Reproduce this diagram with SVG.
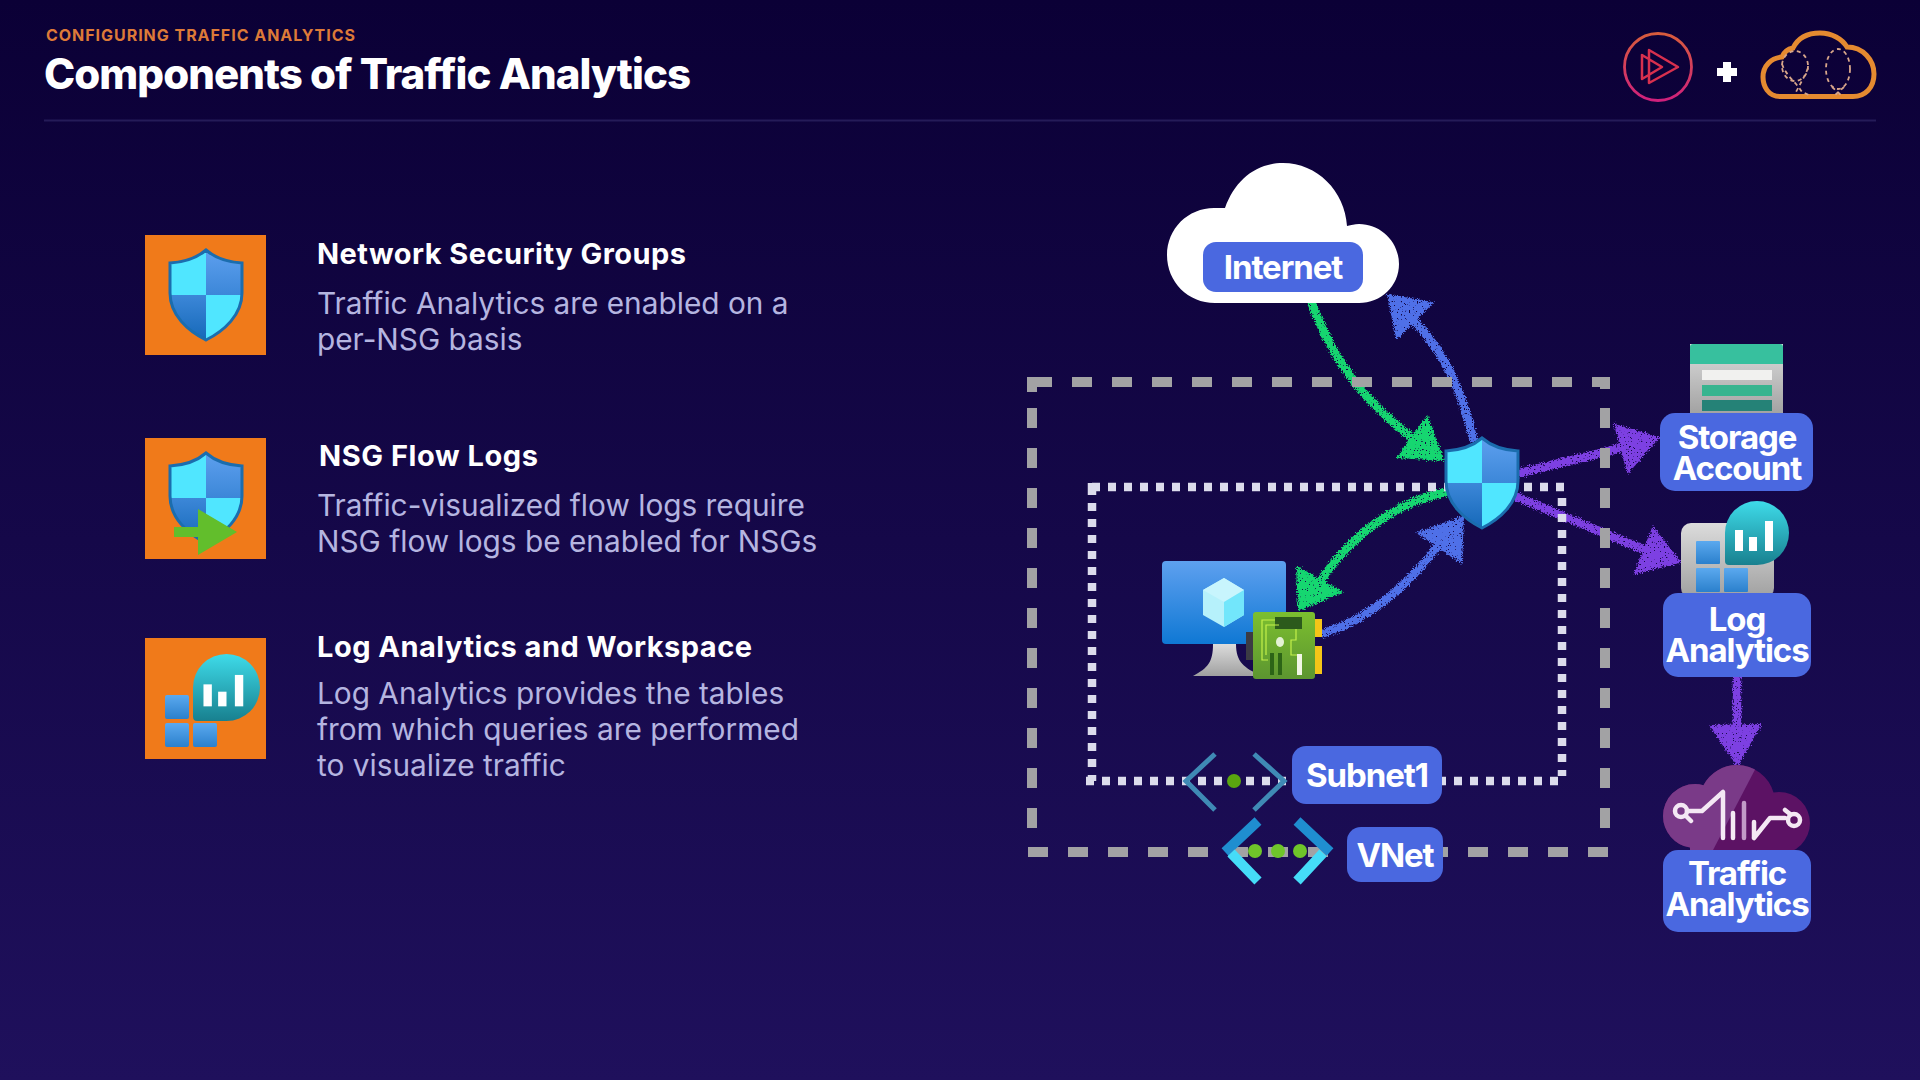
<svg xmlns="http://www.w3.org/2000/svg" xmlns:xlink="http://www.w3.org/1999/xlink" width="1920" height="1080" viewBox="0 0 1920 1080">
<style>
text{font-family:Inter,"Liberation Sans",sans-serif}
.eyebrow{font-size:16px;font-weight:700;fill:#dd7a38}
.title{font-size:42px;font-weight:800;fill:#fff}
.h{font-size:29px;font-weight:700;fill:#fff}
.b{font-size:29.800px;font-weight:400;fill:#b5b5e0}
.pl{font-size:33px;font-weight:700;fill:#fff;text-anchor:middle;letter-spacing:-1.100px}
.pill{fill:#4a68e0}
.sq{fill:#f07a1a}
.con{fill:none;stroke-width:8.500;stroke-linecap:round}
.green{stroke:#12d670}.gh{fill:#12d670;stroke:#12d670;stroke-width:2}
.blue{stroke:#4f6fe8}.bh{fill:#4f6fe8;stroke:#4f6fe8;stroke-width:2}
.purple{stroke:#7d3fe2}.ph{fill:#7d3fe2;stroke:#7d3fe2;stroke-width:2}
.ln{fill:none;stroke:#f4e8f4;stroke-width:4.500;stroke-linecap:round;stroke-linejoin:round}
.dash{fill:none;stroke:#a2a2a4;stroke-width:10;stroke-dasharray:20 20}
.dot{fill:none;stroke:#dcdcec;stroke-width:8.500;stroke-dasharray:8 8}
.balloon{fill:none;stroke:#d8a68a;stroke-width:1.800;stroke-dasharray:4 3.500}
</style>
<defs>
<linearGradient id="bg" x1="0" y1="0" x2="0" y2="1"><stop offset="0" stop-color="#0b0036"/><stop offset="1" stop-color="#1f105c"/></linearGradient>
<linearGradient id="sTR" x1="0" y1="0" x2="0" y2="1"><stop offset="0" stop-color="#5ea0ef"/><stop offset="1" stop-color="#3c87d8"/></linearGradient>
<linearGradient id="sBL" x1="0" y1="0" x2="0" y2="1"><stop offset="0" stop-color="#3c87d8"/><stop offset="1" stop-color="#1568b8"/></linearGradient>
<linearGradient id="win" x1="0" y1="0" x2="0" y2="1"><stop offset="0" stop-color="#5ba9ef"/><stop offset="1" stop-color="#2b80cc"/></linearGradient>
<linearGradient id="bub" x1="0" y1="0" x2="0" y2="1"><stop offset="0" stop-color="#3edbe9"/><stop offset="1" stop-color="#18808f"/></linearGradient>
<linearGradient id="mon" x1="0" y1="0" x2="0" y2="1"><stop offset="0" stop-color="#5ea0ef"/><stop offset="1" stop-color="#0f78d4"/></linearGradient>
<linearGradient id="gray" x1="0" y1="0" x2="0" y2="1"><stop offset="0" stop-color="#dcdcdc"/><stop offset="1" stop-color="#a0a0a0"/></linearGradient>
<linearGradient id="nic" x1="0" y1="0" x2="0" y2="1"><stop offset="0" stop-color="#7cbf2f"/><stop offset="1" stop-color="#5c9530"/></linearGradient>
<linearGradient id="ps" x1="0" y1="0" x2="0" y2="1"><stop offset="0" stop-color="#d85c3c"/><stop offset="1" stop-color="#d0207c"/></linearGradient>
<clipPath id="shieldClip"><path id="shieldPath" d="M38 1C30 8 18 13 2 14V44C2 66 20 82 38 91C56 82 74 66 74 44V14C58 13 46 8 38 1Z"/></clipPath>
<symbol id="shield" viewBox="0 0 76 92" width="76" height="92" overflow="visible">
<g clip-path="url(#shieldClip)">
<rect x="0" y="0" width="38" height="46" fill="#50e6ff"/>
<rect x="38" y="0" width="38" height="46" fill="url(#sTR)"/>
<rect x="0" y="46" width="38" height="46" fill="url(#sBL)"/>
<rect x="38" y="46" width="38" height="46" fill="#50e6ff"/>
</g>
<path d="M38 1C30 8 18 13 2 14V44C2 66 20 82 38 91C56 82 74 66 74 44V14C58 13 46 8 38 1Z" fill="none" stroke="#1b6dae" stroke-width="3"/>
</symbol>
<symbol id="bubble" viewBox="0 0 64 64" width="64" height="64">
<path d="M0 32A32 32 0 1 1 32 64H4Q0 64 0 60Z" fill="url(#bub)"/>
<rect x="10" y="29" width="8" height="21" fill="#fff"/><rect x="24" y="36" width="8" height="14" fill="#fff"/><rect x="40" y="20" width="8" height="30" fill="#fff"/>
</symbol>
<filter id="chalk" filterUnits="userSpaceOnUse" x="0" y="0" width="1920" height="1080">
<feTurbulence type="fractalNoise" baseFrequency="0.75" numOctaves="2" seed="4" result="n"/>
<feDisplacementMap in="SourceGraphic" in2="n" scale="7" xChannelSelector="R" yChannelSelector="G" result="d"/>
<feColorMatrix in="n" type="matrix" values="0 0 0 0 0  0 0 0 0 0  0 0 0 0 0  14 0 0 0 -9.400" result="s"/>
<feComposite in="d" in2="s" operator="out"/>
</filter>
<clipPath id="tc"><circle cx="1695" cy="816" r="32"/><circle cx="1737" cy="803" r="38"/><circle cx="1779" cy="823" r="31"/><rect x="1690" y="815" width="90" height="36"/></clipPath>
</defs>
<rect width="1920" height="1080" fill="url(#bg)"/>

<g id="header">
<text class="eyebrow" x="46" y="41" textLength="309" lengthAdjust="spacing">CONFIGURING TRAFFIC ANALYTICS</text>
<text class="title" x="44" y="89" textLength="647" lengthAdjust="spacing">Components of Traffic Analytics</text>
<rect x="44" y="119.500" width="1832" height="2" fill="#251b58"/>
</g>
<g id="logo-pluralsight">
<circle cx="1658" cy="67" r="33.500" fill="none" stroke="url(#ps)" stroke-width="2.800"/>
<path d="M1649 50L1678 67L1649 83ZM1642 55V79L1662 67Z" fill="none" stroke="#d8304e" stroke-width="2.500" stroke-linejoin="round"/>
</g>
<path id="plus" d="M1717 72H1737M1727 62V82" stroke="#fff" stroke-width="8" fill="none"/>
<g id="logo-cloud">
<path d="M1780 96.500C1768 96.500 1763 86 1763 77C1763 66 1771 58 1782 57C1784 52 1788 49 1793 48C1798 38 1808 33 1820 33C1832 33 1842 39 1847 47C1863 47 1874 60 1874 74C1874 88 1865 96.500 1853 96.500Z" fill="none" stroke="#e58a30" stroke-width="5"/>
<ellipse class="balloon" cx="1795" cy="66" rx="13" ry="15"/>
<path class="balloon" d="M1782 64C1786 76 1796 82 1802 92L1809 95M1808 68C1804 78 1800 84 1796 92"/>
<ellipse class="balloon" cx="1838" cy="69" rx="12" ry="20"/>
<path class="balloon" d="M1832 87L1842 96M1844 87L1834 96"/>
</g>

<g id="node-nsg-item">
<rect class="sq" x="145" y="235" width="121" height="120"/>
<use href="#shield" x="168" y="249"/>
<text class="h" x="317" y="264" textLength="369" lengthAdjust="spacing">Network Security Groups</text>
<text class="b" x="317" y="314">Traffic Analytics are enabled on a</text>
<text class="b" x="317" y="350">per-NSG basis</text>
</g>
<g id="node-flow-item">
<rect class="sq" x="145" y="438" width="121" height="121"/>
<use href="#shield" x="168" y="452"/>
<path d="M174 527H198V509L237 532L198 555V537H174Z" fill="#62be2c"/>
<text class="h" x="319" y="466" textLength="219" lengthAdjust="spacing">NSG Flow Logs</text>
<text class="b" x="317" y="516">Traffic-visualized flow logs require</text>
<text class="b" x="317" y="552">NSG flow logs be enabled for NSGs</text>
</g>
<g id="node-law-item">
<rect class="sq" x="145" y="638" width="121" height="121"/>
<rect x="165" y="695" width="24" height="24" rx="2" fill="url(#win)"/>
<rect x="165" y="723" width="24" height="24" rx="2" fill="url(#win)"/>
<rect x="193" y="723" width="24" height="24" rx="2" fill="url(#win)"/>
<use href="#bubble" x="193" y="654" width="67" height="67"/>
<text class="h" x="317" y="657" textLength="435" lengthAdjust="spacing">Log Analytics and Workspace</text>
<text class="b" x="317" y="704">Log Analytics provides the tables</text>
<text class="b" x="317" y="740">from which queries are performed</text>
<text class="b" x="317" y="776">to visualize traffic</text>
</g>

<g id="connectors" filter="url(#chalk)">
<g id="c-internet-nsg"><path class="con green" d="M1312 304C1335 365 1368 405 1415 440"/><polygon class="gh" points="1443,460 1427,417 1398,457"/></g>
<g id="c-nsg-internet"><path class="con blue" d="M1473 438C1460 385 1442 350 1415 322"/><polygon class="bh" points="1388,295 1432,303 1397,338"/></g>
<g id="c-nsg-storage"><path class="con purple" d="M1520 473L1625 447"/><polygon class="ph" points="1658,438 1615,425 1628,472"/></g>
<g id="c-nsg-law"><path class="con purple" d="M1517 497L1650 552"/><polygon class="ph" points="1680,562 1653,528 1635,573"/></g>
<g id="c-nsg-nic"><path class="con green" d="M1445 492C1395 503 1350 535 1318 585"/><polygon class="gh" points="1299,610 1297,567 1341,592"/></g>
<g id="c-nic-nsg"><path class="con blue" d="M1324 633C1365 620 1405 590 1440 543"/><polygon class="bh" points="1463,517 1418,533 1461,562"/></g>
<g id="c-law-ta"><path class="con purple" d="M1737 679V730"/><polygon class="ph" points="1737,765 1711,726 1760,725"/></g>
</g>

<g id="container-vnet">
<path class="dash" d="M1032 382H1610"/>
<path class="dash" d="M1032 377V392" style="stroke-dasharray:none"/>
<path class="dash" d="M1032 408V840"/>
<path class="dash" d="M1605 377V389" style="stroke-dasharray:none"/>
<path class="dash" d="M1605 408V848"/>
<path class="dash" d="M1028 852H1610"/>
</g>
<g id="container-subnet">
<path class="dot" d="M1092 487H1566"/>
<path class="dot" d="M1092 483V495" style="stroke-dasharray:none"/>
<path class="dot" d="M1092 503V781"/>
<path class="dot" d="M1562 498V776"/>
<path class="dot" d="M1086 781H1558"/>
</g>

<g id="node-internet">
<path d="M1215 303C1188 303 1167 282 1167 255C1167 228 1189 207 1216 208H1225C1235 180 1256 163 1283 163C1317 163 1345 191 1347 226C1352 225 1354 224 1359 224C1381 224 1399 242 1399 264C1399 286 1381 303 1359 303Z" fill="#fff"/>
<rect class="pill" x="1203" y="242" width="160" height="50" rx="13"/>
<text class="pl" x="1283" y="279">Internet</text>
</g>
<g id="node-nsg"><use href="#shield" x="1444" y="437"/></g>
<g id="node-vm">
<rect x="1162" y="561" width="124" height="83" rx="4" fill="url(#mon)"/>
<polygon points="1224,578 1244,590 1244,615 1224,627 1203,615 1203,590" fill="#b6f1fb"/>
<polygon points="1224,578 1244,590 1224,602 1203,590" fill="#c8f5fd"/>
<polygon points="1244,590 1244,615 1224,627 1224,602" fill="#72e6fb"/>
<path d="M1213 644H1236C1236 662 1244 668 1262 676H1193C1208 668 1213 662 1213 644Z" fill="url(#gray)"/>
<rect x="1246" y="632" width="8" height="28" fill="#3b3b44"/>
</g>
<g id="node-nic">
<rect x="1315" y="619" width="7" height="18" fill="#f5c518"/>
<rect x="1315" y="646" width="7" height="28" fill="#f5c518"/>
<rect x="1253" y="612" width="62" height="67" rx="3" fill="url(#nic)"/>
<rect x="1275" y="617" width="27" height="12" fill="#2c5a1c"/>
<path d="M1275 620H1262V660H1268M1279 625H1266V655M1296 629V640H1291V655H1297" fill="none" stroke="#c4f04a" stroke-width="1.200"/>
<ellipse cx="1280" cy="642" rx="4" ry="5" fill="#e4f2d6"/>
<rect x="1270" y="653" width="4" height="22" fill="#2c6416"/><rect x="1278" y="653" width="4" height="22" fill="#2c6416"/>
<rect x="1297" y="654" width="5" height="21" fill="#f2f6e6"/>
</g>
<g id="node-subnet">
<path d="M1215 754L1186 781L1215 810M1254 754L1284 781L1254 810" fill="none" stroke="#3f8ab5" stroke-width="5"/>
<circle cx="1234" cy="781" r="7" fill="#5aa50f"/>
<rect class="pill" x="1292" y="746" width="150" height="58" rx="14"/>
<text class="pl" x="1367" y="787">Subnet1</text>
</g>
<g id="node-vnet">
<path d="M1258 821L1225 852M1297 821L1330 852" fill="none" stroke="#1f8ed0" stroke-width="10"/>
<path d="M1231 853L1258 881M1323 853L1297 881" fill="none" stroke="#45dcf8" stroke-width="10"/>
<circle cx="1255" cy="851" r="7" fill="#6fc52a"/><circle cx="1278" cy="851" r="7" fill="#6fc52a"/><circle cx="1300" cy="851" r="7" fill="#6fc52a"/>
<rect class="pill" x="1347" y="827" width="96" height="55" rx="14"/>
<text class="pl" x="1395" y="867">VNet</text>
</g>
<g id="node-storage">
<rect x="1690" y="344" width="93" height="72" fill="url(#gray)"/>
<path d="M1690 364V347Q1690 344 1693 344H1780Q1783 344 1783 347V364Z" fill="#37c09e"/>
<rect x="1702" y="370" width="70" height="10" fill="#f1f1ef"/>
<rect x="1702" y="385" width="70" height="11" fill="#37b48f"/>
<rect x="1702" y="400" width="70" height="11" fill="#258277"/>
<rect class="pill" x="1660" y="413" width="153" height="78" rx="15"/>
<text class="pl" x="1737" y="449">Storage</text>
<text class="pl" x="1737" y="480">Account</text>
</g>
<g id="node-law">
<rect x="1681" y="523" width="93" height="75" rx="10" fill="url(#gray)"/>
<rect x="1696" y="541" width="24" height="23" rx="1" fill="url(#win)"/>
<rect x="1696" y="568" width="24" height="24" rx="1" fill="url(#win)"/>
<rect x="1724" y="568" width="24" height="24" rx="1" fill="url(#win)"/>
<use href="#bubble" x="1725" y="501"/>
<rect class="pill" x="1663" y="593" width="148" height="84" rx="15"/>
<text class="pl" x="1737" y="631">Log</text>
<text class="pl" x="1737" y="662">Analytics</text>
</g>
<g id="node-traffic">
<g clip-path="url(#tc)">
<rect x="1660" y="760" width="155" height="95" fill="#5c1264"/>
<polygon points="1660,760 1760,760 1712,852 1660,852" fill="#7a3a88"/>
</g>
<circle class="ln" cx="1681" cy="811" r="6"/>
<path class="ln" d="M1687 811H1702L1723 792V838M1687 817L1691 821M1754 838V822M1754 838L1770 818H1785M1785 810L1790 814"/>
<path class="ln" d="M1733 813V838"/>
<path class="ln" d="M1744 803V838" style="stroke:#c29ac8"/>
<circle class="ln" cx="1794" cy="820" r="6"/>
<rect class="pill" x="1663" y="850" width="148" height="82" rx="15"/>
<text class="pl" x="1737" y="885">Traffic</text>
<text class="pl" x="1737" y="916">Analytics</text>
</g>
</svg>
